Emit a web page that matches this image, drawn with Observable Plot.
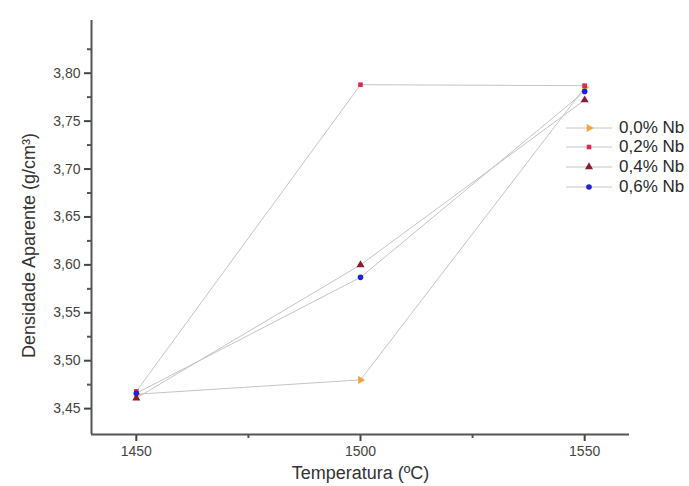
<!DOCTYPE html>
<html>
<head>
<meta charset="utf-8">
<script src="https://cdn.jsdelivr.net/npm/d3@7"></script>
<script src="https://cdn.jsdelivr.net/npm/@observablehq/plot@0.6"></script>
<style>
  html, body { margin: 0; padding: 0; background: #fff; }
  #wrap { position: relative; width: 689px; height: 486px; font-family: "Liberation Sans", Arial, sans-serif; }
  #legend { position: absolute; left: 566px; top: 118px; }
  .row { display: flex; align-items: center; height: 19.6px; }
  .row span { font-size: 17px; color: #2a2a2a; margin-left: 7px; }
</style>
</head>
<body>
<div id="wrap"><div id="legend"></div></div>
<script>
const temps = [1450, 1500, 1550];
const seriesNames = ["0,0% Nb", "0,2% Nb", "0,4% Nb", "0,6% Nb"];
const nb00 = [3.465, 3.480, 3.785];
const nb02 = [3.468, 3.788, 3.787];
const nb04 = [3.461, 3.600, 3.772];
const nb06 = [3.466, 3.587, 3.781];
const yTicks = [3.45, 3.50, 3.55, 3.60, 3.65, 3.70, 3.75, 3.80];
const yMinor = [3.475, 3.525, 3.575, 3.625, 3.675, 3.725, 3.775, 3.825];
const xTicks = [1450, 1500, 1550];
const xMinor = [1475, 1525];

const colors = ["#f2a33a", "#e0284e", "#8a1c30", "#1c22d6"];
const symbols = ["triangle", "square", "triangle", "circle"];
const rotations = [90, 0, 0, 0];
const radii = [3, 2.6, 3, 2.8];
const allValues = [nb00, nb02, nb04, nb06];

const series = allValues.map((vals, i) => temps.map((t, j) => ({t, v: vals[j], s: seriesNames[i]})));

const fmt = d => d.toFixed(2).replace(".", ",");
const blank = () => "";
const xDom = [1440, 1560];
const yDom = [3.423, 3.855];

const marks = [];
series.forEach(d => marks.push(Plot.line(d, {x: "t", y: "v", stroke: "#c4c4c4", strokeWidth: 1})));
series.forEach((d, i) => marks.push(Plot.dot(d, {x: "t", y: "v", symbol: () => symbols[i], r: radii[i], fill: colors[i], stroke: "none", rotate: rotations[i]})));
marks.push(
  Plot.axisY({ticks: yTicks, tickFormat: fmt, tickSize: 7, tickPadding: 4, fontSize: 14, color: "#444", stroke: "#444", strokeWidth: 2, strokeOpacity: 1, label: null}),
  Plot.axisY({ticks: yMinor, tickFormat: blank, tickSize: 4, stroke: "#555", strokeWidth: 2, strokeOpacity: 1, label: null}),
  Plot.axisX({ticks: xTicks, tickFormat: d => String(d), tickSize: 7, tickPadding: 5, fontSize: 14, color: "#444", stroke: "#444", strokeWidth: 2, strokeOpacity: 1, label: null}),
  Plot.axisX({ticks: xMinor, tickFormat: blank, tickSize: 4, stroke: "#555", strokeWidth: 2, strokeOpacity: 1, label: null}),
  Plot.ruleX([xDom[0]], {stroke: "#555", strokeWidth: 2}),
  Plot.ruleY([yDom[0]], {stroke: "#555", strokeWidth: 2}),
  Plot.text(["Densidade Aparente (g/cm³)"], {frameAnchor: "left", textAnchor: "middle", dx: -62, dy: 18, rotate: -90, fontSize: 18, fill: "#333"}),
  Plot.text(["Temperatura (ºC)"], {frameAnchor: "bottom", dy: 44, fontSize: 18, fill: "#333"})
);

const chart = Plot.plot({
  width: 689,
  height: 486,
  marginLeft: 91,
  marginRight: 60,
  marginTop: 20,
  marginBottom: 52,
  style: {fontFamily: "Liberation Sans, Arial, sans-serif", background: "#fff", overflow: "visible"},
  x: {domain: xDom, axis: null},
  y: {domain: yDom, axis: null},
  marks
});
document.getElementById("wrap").prepend(chart);

const legend = d3.select("#legend");
seriesNames.forEach((name, i) => {
  const row = legend.append("div").attr("class", "row");
  const svg = row.append("svg").attr("width", 46).attr("height", 14);
  svg.append("line").attr("x1", 0).attr("x2", 46).attr("y1", 7).attr("y2", 7).attr("stroke", "#c4c4c4");
  svg.append("path")
    .attr("d", d3.symbol(symbols[i] === "square" ? d3.symbolSquare : symbols[i] === "circle" ? d3.symbolCircle : d3.symbolTriangle, Math.PI * radii[i] * radii[i])())
    .attr("transform", `translate(23,7) rotate(${rotations[i]})`)
    .attr("fill", colors[i]);
  row.append("span").text(name);
});
</script>
</body>
</html>
